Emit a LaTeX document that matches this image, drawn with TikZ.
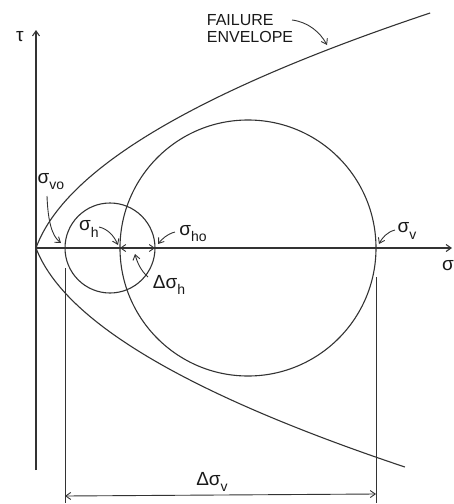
\documentclass[tikz,border=0pt]{standalone}
\usepackage{fontspec}
\setmainfont{Liberation Sans}
\usetikzlibrary{arrows.meta}
\newcommand\sigsub[1]{σ\raisebox{-0.32em}{\fontsize{14}{14}\selectfont #1}}
\begin{document}
\begin{tikzpicture}[x=1pt,y=-1pt,
  ln/.style={line width=1.1pt, draw=black!80},
  thinln/.style={line width=0.9pt, draw=black!80},
  tip/.style={-{Straight Barb[length=5pt,width=7pt]}},
  dtip/.style={{Straight Barb[length=5pt,width=7pt]}-{Straight Barb[length=5pt,width=7pt]}},
  lbl/.style={inner sep=0pt, text=black!90, font=\fontsize{19}{19}\selectfont},
  captext/.style={inner sep=0pt, text=black!90, align=left, font=\fontsize{16}{17}\selectfont}]
\useasboundingbox (0,0) rectangle (454,504);
% key points
\coordinate (O) at (36,248);
\coordinate (Ttop) at (36,30);
\coordinate (Tbot) at (36,470);
\coordinate (Send) at (452,248);
\coordinate (svo) at (65,248);
\coordinate (sh) at (120,248);
\coordinate (sho) at (155,248);
\coordinate (sv) at (376,248);
\coordinate (Cs) at (110,248);
\coordinate (Cb) at (248,248);
% axes
\draw[ln, tip] (Tbot) -- (Ttop);
\draw[ln, tip] (O) -- (Send);
\node[lbl] (tau) at (20,37) {τ};
\node[lbl] (sig) at (448,266) {σ};
% failure envelope
\draw[ln] plot[domain=0:235, samples=80, variable=\t] ({36+0.361*\t+0.0056*\t*\t}, {248-\t});
\draw[ln] plot[domain=0:219, samples=80, variable=\t] ({36+0.381*\t+0.005953*\t*\t}, {248+\t});
% Mohr circles
\draw[ln] (Cs) circle[radius=45pt];
\draw[ln] (Cb) circle[radius=128pt];
% extension lines and dimension
\coordinate (vl1) at (65,268);
\coordinate (vl1b) at (65,503);
\coordinate (vl2) at (376,277);
\coordinate (vl2b) at (376,503);
\draw[thinln] (vl1) -- (vl1b);
\draw[thinln] (vl2) -- (vl2b);
\coordinate (d1) at (65,496);
\coordinate (d2) at (376,494);
\draw[thinln, dtip] (d1) -- (d2);
\node[lbl] (Ldv) at (212,482) {Δ\sigsub{v}};
% delta sigma h
\draw[thinln, dtip] (sh) -- (sho);
% labels
\node[lbl] (Lvo) at (51,182) {\sigsub{vo}};
\node[lbl] (Lh) at (89,229) {\sigsub{h}};
\node[lbl] (Lho) at (193,234) {\sigsub{ho}};
\node[lbl] (Ldh) at (169,285) {Δ\sigsub{h}};
\node[lbl] (Lv) at (407,231) {\sigsub{v}};
\node[captext] (Lfe) at (250,29) {FAILURE\\ENVELOPE};
% label arrows
\coordinate (avo) at (47,196);
\coordinate (avoT) at (61,243);
\draw[thinln, tip] (avo) .. controls (48,222) and (52,236) .. (avoT);
\coordinate (ah) at (99,227);
\coordinate (ahT) at (118,245);
\draw[thinln, tip] (ah) .. controls (108,229) and (114,236) .. (ahT);
\coordinate (aho) at (175,232);
\coordinate (ahoT) at (158,244);
\draw[thinln, tip] (aho) .. controls (167,234) and (161,240) .. (ahoT);
\coordinate (adh) at (148,277);
\coordinate (adhT) at (135,254);
\draw[thinln, tip] (adh) .. controls (141,271) and (137,262) .. (adhT);
\coordinate (av) at (395,230);
\coordinate (avT) at (379,244);
\draw[thinln, tip] (av) .. controls (387,232) and (382,238) .. (avT);
\coordinate (afe) at (292,20);
\coordinate (afeT) at (327,45);
\draw[thinln, tip] (afe) .. controls (308,22) and (320,32) .. (afeT);
\end{tikzpicture}
\end{document}
